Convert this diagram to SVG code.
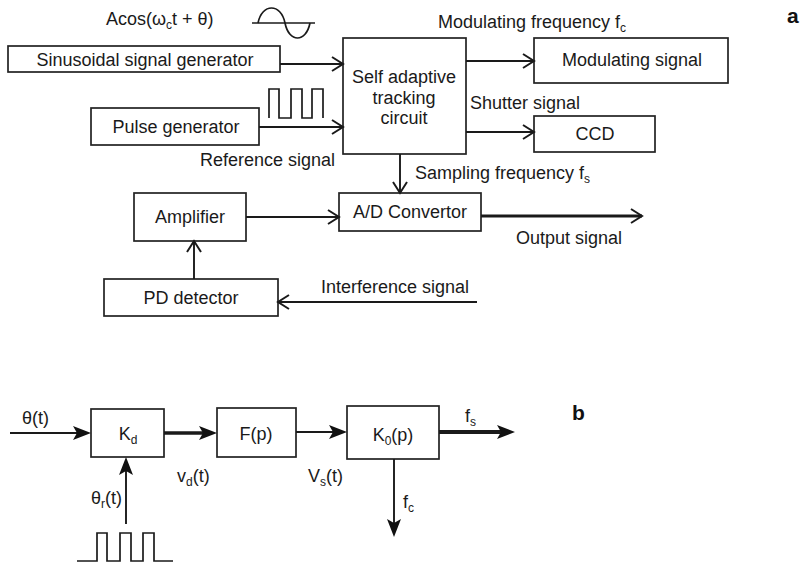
<svg xmlns="http://www.w3.org/2000/svg" width="800" height="562" viewBox="0 0 800 562">
  <defs>
    <style>
      .box { fill: #fff; stroke: #222; stroke-width: 1.7; }
      .t { font-family: "Liberation Sans", Arial, sans-serif; font-size: 18px; fill: #1a1a1a; }
      .c { text-anchor: middle; }
      .sub { font-size: 12px; }
      .lbl { font-family: "Liberation Sans", Arial, sans-serif; font-size: 21px; font-weight: bold; fill: #111; }
      .wire { fill: none; stroke: #1a1a1a; stroke-width: 1.9; }
      .open { marker-end: url(#chev); }
      .solid { marker-end: url(#tri); }
      .wave { fill: none; stroke: #1a1a1a; stroke-width: 1.7; }
    </style>
    <!-- open chevron head used in the block diagram -->
    <marker id="chev" viewBox="-14 -9 16 18" refX="0" refY="0" markerWidth="16" markerHeight="18" markerUnits="userSpaceOnUse" orient="auto">
      <path d="M-11,-7 L0,0 L-11,7" fill="none" stroke="#1a1a1a" stroke-width="2"/>
    </marker>
    <!-- filled head used in the loop model; tip sits 8 px past the line end -->
    <marker id="tri" viewBox="-12 -9 22 18" refX="0" refY="0" markerWidth="22" markerHeight="18" markerUnits="userSpaceOnUse" orient="auto">
      <path d="M8,0 L-10,-7 L-6,0 L-10,7 Z" fill="#111"/>
    </marker>
  </defs>
  <rect width="800" height="562" fill="#fff"/>

  <!-- ===== a: measurement system ===== -->
  <g id="sine-generator">
    <rect class="box" x="8" y="46" width="272" height="26"/>
    <text class="t c" x="145" y="66">Sinusoidal signal generator</text>
  </g>
  <g id="pulse-generator">
    <rect class="box" x="91" y="108" width="168" height="37"/>
    <text class="t c" x="176" y="133">Pulse generator</text>
  </g>
  <g id="tracking-circuit">
    <rect class="box" x="343" y="38" width="123" height="116"/>
    <text class="t c" x="404" y="83">Self adaptive</text>
    <text class="t c" x="404" y="104">tracking</text>
    <text class="t c" x="404" y="124">circuit</text>
  </g>
  <g id="modulating-signal">
    <rect class="box" x="534" y="38" width="194" height="45"/>
    <text class="t c" x="632" y="66">Modulating signal</text>
  </g>
  <g id="ccd">
    <rect class="box" x="534" y="116" width="121" height="36"/>
    <text class="t c" x="595" y="140">CCD</text>
  </g>
  <g id="ad-convertor">
    <rect class="box" x="339" y="193" width="142" height="38"/>
    <text class="t c" x="410" y="218">A/D Convertor</text>
  </g>
  <g id="amplifier">
    <rect class="box" x="134" y="193" width="112" height="48"/>
    <text class="t c" x="190" y="223">Amplifier</text>
  </g>
  <g id="pd-detector">
    <rect class="box" x="104" y="279" width="174" height="37"/>
    <text class="t c" x="191" y="304">PD detector</text>
  </g>

  <!-- signal waveforms -->
  <g id="waveforms-a">
    <path class="wave" d="M252,23 H315"/>
    <path class="wave" d="M258,23 C262,3 281,3 285,23 C289,43 306,43 310,23"/>
    <path class="wave" d="M269,118 V89 H279 V118 H291 V89 H302 V118 H312 V89 H323 V118"/>
  </g>

  <g id="connectors-a">
    <path class="wire open" d="M280,64 H343"/>
    <path class="wire open" d="M259,127 H343"/>
    <path class="wire open" d="M466,61 H534"/>
    <path class="wire open" d="M466,132 H534"/>
    <path class="wire open" d="M400,154 V193"/>
    <path class="wire open" d="M246,217 H339"/>
    <path class="wire open" d="M481,216 H642" style="stroke-width:3.2"/>
    <path class="wire open" d="M194,279 V241"/>
    <path class="wire open" d="M477,302 H278"/>
  </g>

  <g id="labels-a">
    <text class="t" x="106" y="25">Acos(ω<tspan class="sub" dy="4">c</tspan><tspan dy="-4">t + θ)</tspan></text>
    <text class="t" x="438" y="28">Modulating frequency f<tspan class="sub" dy="4">c</tspan></text>
    <text class="t" x="470" y="109">Shutter signal</text>
    <text class="t" x="200" y="166">Reference signal</text>
    <text class="t" x="415" y="179">Sampling frequency f<tspan class="sub" dy="4">s</tspan></text>
    <text class="t" x="516" y="244">Output signal</text>
    <text class="t" x="321" y="293">Interference signal</text>
    <text class="lbl" x="787" y="23">a</text>
  </g>

  <!-- ===== b: tracking loop model ===== -->
  <g id="phase-detector">
    <rect class="box" x="91" y="409" width="73" height="48"/>
    <text class="t c" x="128" y="440">K<tspan class="sub" dy="4">d</tspan></text>
  </g>
  <g id="loop-filter">
    <rect class="box" x="217" y="408" width="79" height="49"/>
    <text class="t c" x="256" y="440">F(p)</text>
  </g>
  <g id="oscillator">
    <rect class="box" x="347" y="406" width="92" height="53"/>
    <text class="t c" x="393" y="441">K<tspan class="sub" dy="4">0</tspan><tspan dy="-4">(p)</tspan></text>
  </g>

  <g id="waveforms-b">
    <path class="wave" d="M77,561 H97 V533 H107 V561 H120 V533 H131 V561 H143 V533 H154 V561 H173"/>
  </g>

  <g id="connectors-b">
    <path class="wire solid" d="M10,433 H83"/>
    <path class="wire solid" d="M164,433 H209" style="stroke-width:3.5"/>
    <path class="wire solid" d="M296,432 H339"/>
    <path class="wire solid" d="M439,432 H507" style="stroke-width:4"/>
    <path class="wire solid" d="M394,459 V529"/>
    <path class="wire solid" d="M126,524 V465"/>
  </g>

  <g id="labels-b">
    <text class="t" x="22" y="424">θ(t)</text>
    <text class="t" x="177" y="482">v<tspan class="sub" dy="4">d</tspan><tspan dy="-4">(t)</tspan></text>
    <text class="t" x="91" y="504">θ<tspan class="sub" dy="4">r</tspan><tspan dy="-4">(t)</tspan></text>
    <text class="t" x="308" y="482">V<tspan class="sub" dy="4">s</tspan><tspan dy="-4">(t)</tspan></text>
    <text class="t" x="465" y="422">f<tspan class="sub" dy="4">s</tspan></text>
    <text class="t" x="403" y="508">f<tspan class="sub" dy="4">c</tspan></text>
    <text class="lbl" x="572" y="420">b</text>
  </g>
</svg>
